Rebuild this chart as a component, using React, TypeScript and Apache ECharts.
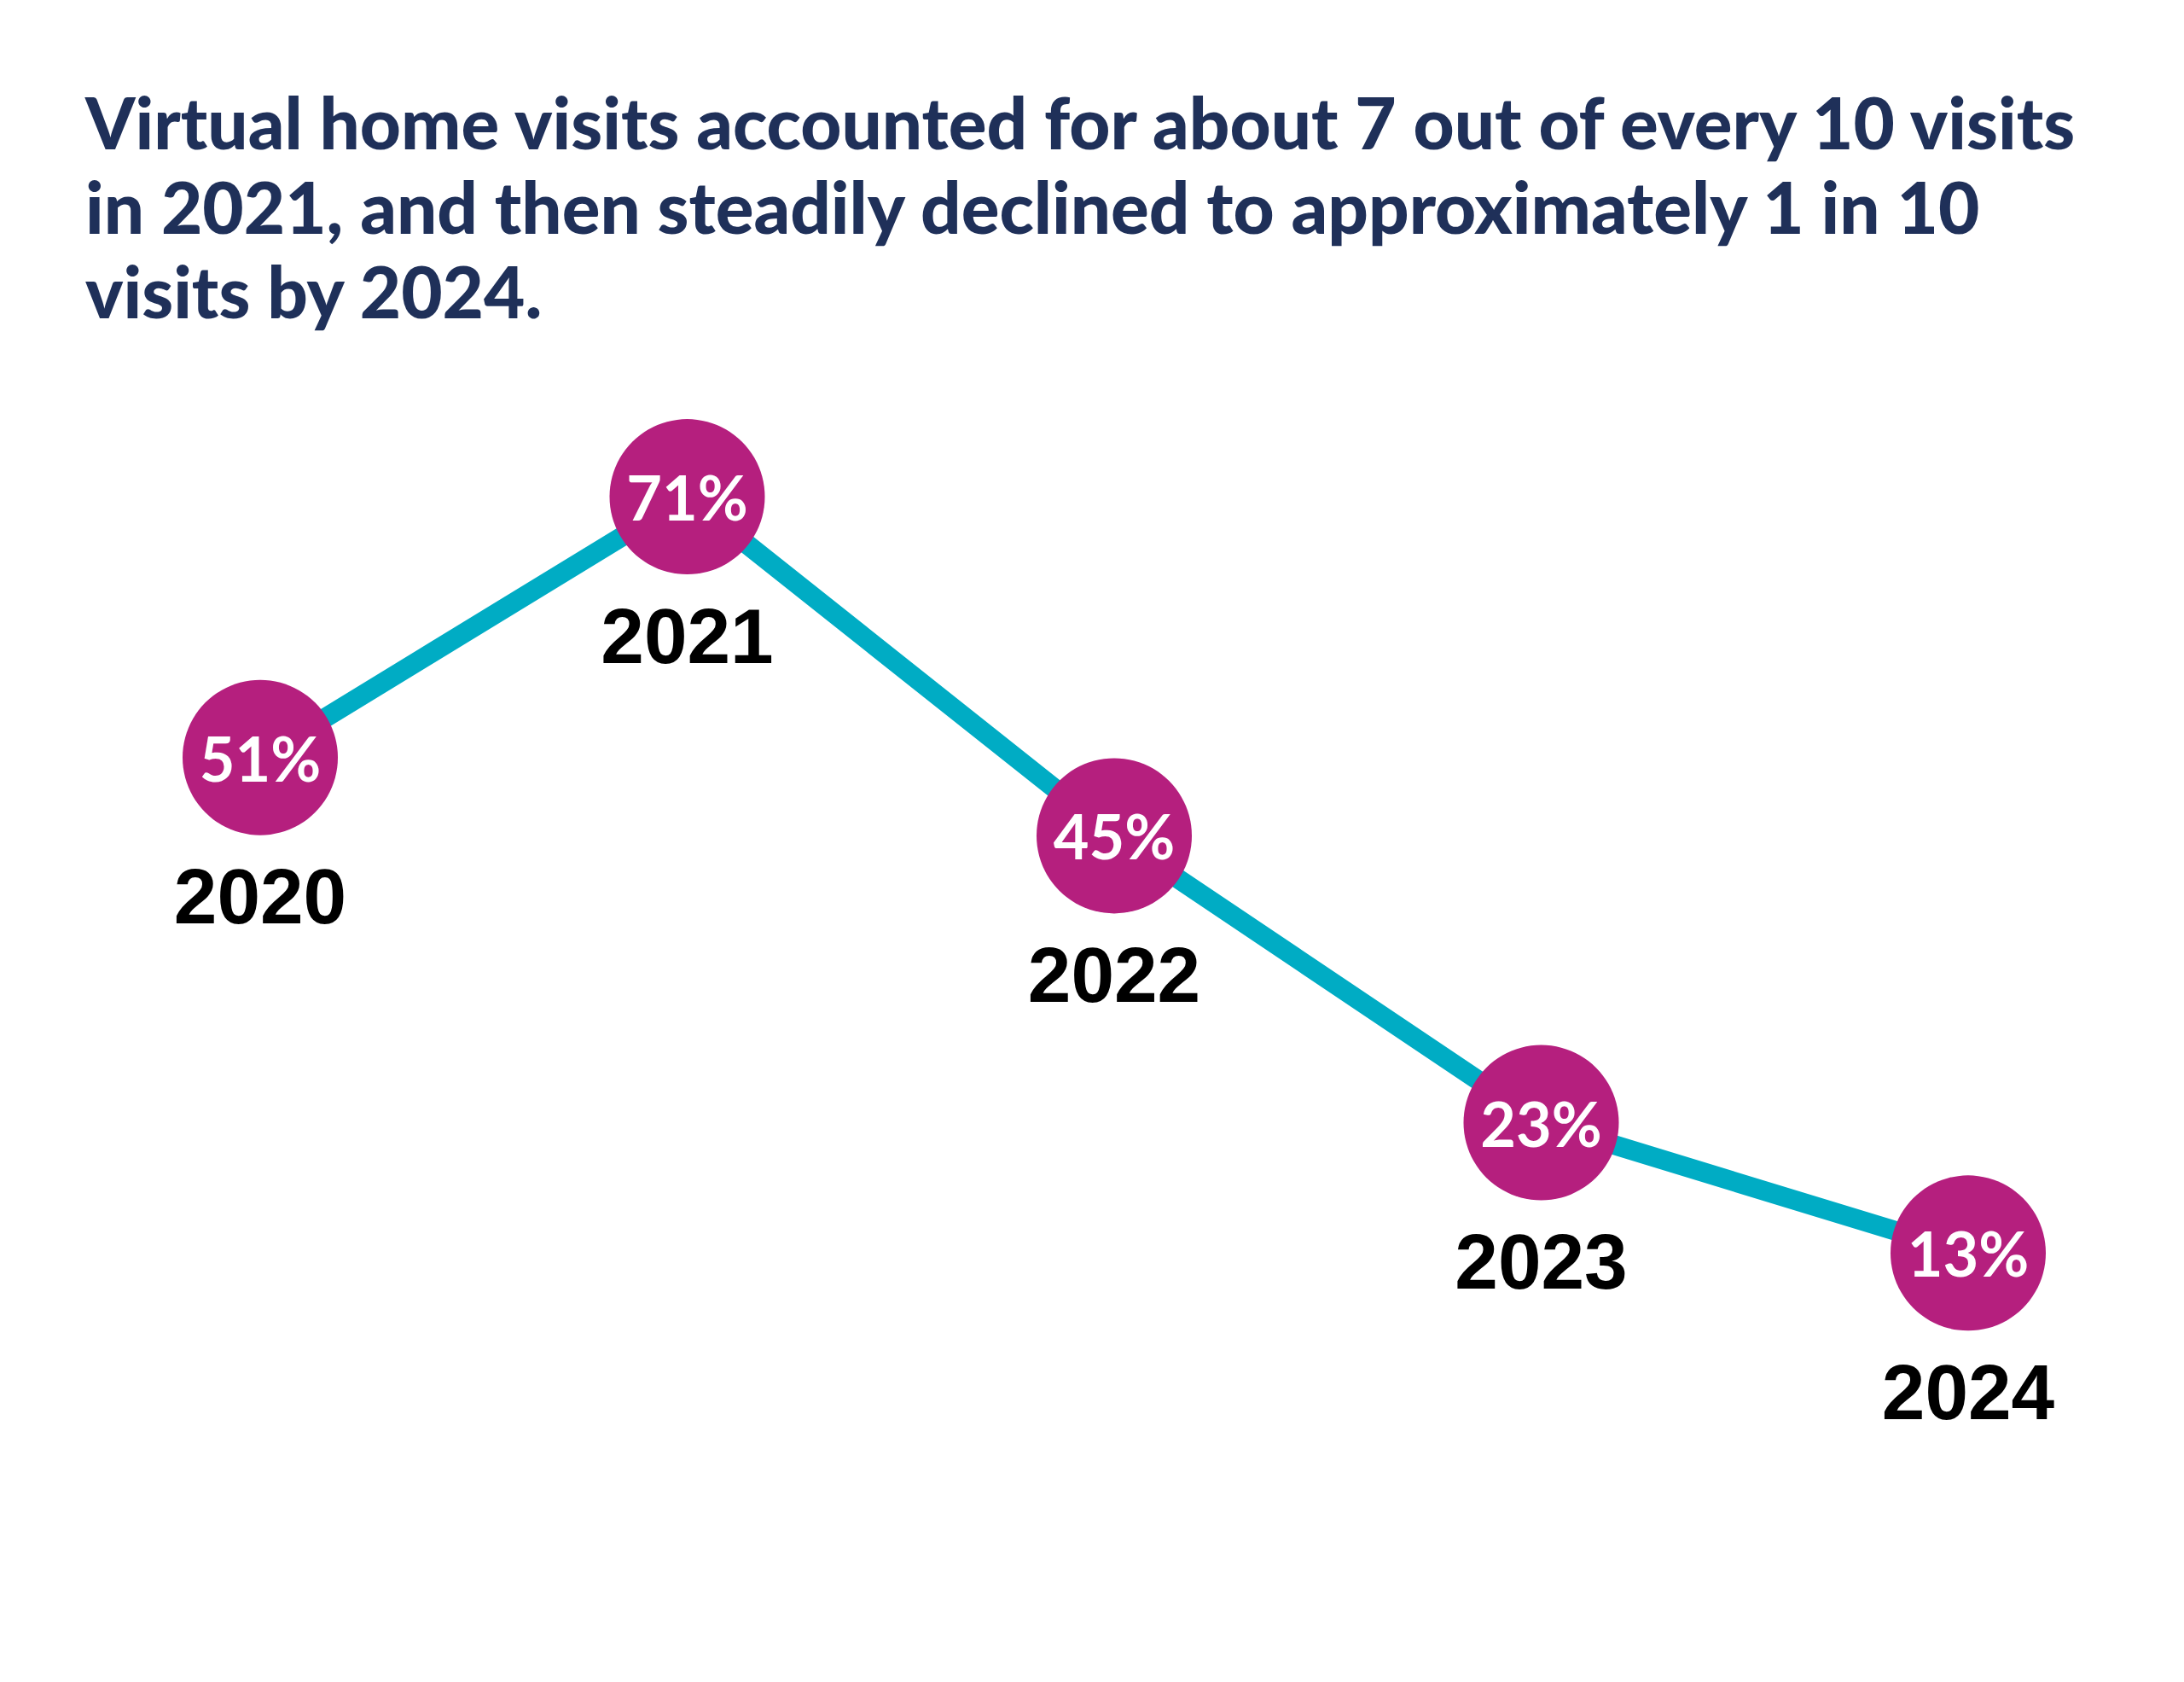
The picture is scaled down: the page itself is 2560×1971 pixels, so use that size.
import React, { useEffect, useRef } from "react";
import * as echarts from "echarts";

// Share of home visits delivered virtually, by year
const years = ["2020", "2021", "2022", "2023", "2024"];
const virtualShare = [51, 71, 45, 23, 13];

const titleLines = [
  "Virtual home visits accounted for about 7 out of every 10 visits",
  "in 2021, and then steadily declined to approximately 1 in 10",
  "visits by 2024.",
];

const NAVY = "#1f3059";
const TEAL = "#00acc4";
const MAGENTA = "#b51f7e";

export default function App() {
  const ref = useRef<HTMLDivElement>(null);

  useEffect(() => {
    if (!ref.current) return;
    const chart = echarts.init(ref.current, undefined, { renderer: "svg" });
    chart.setOption({
      animation: false,
      backgroundColor: "#ffffff",
      title: {
        text: titleLines.join("\n"),
        left: 100,
        top: 93,
        padding: 0,
        textStyle: {
          color: NAVY,
          fontFamily: "Lato",
          fontWeight: 900,
          fontSize: 83.5,
          lineHeight: 99,
        },
      },
      grid: { left: 305, right: 253, top: 139, bottom: 304 },
      xAxis: {
        type: "category",
        data: years,
        boundaryGap: false,
        show: false,
      },
      yAxis: {
        type: "value",
        min: 0,
        max: 100,
        show: false,
      },
      series: [
        {
          type: "line",
          data: virtualShare,
          symbol: "circle",
          symbolSize: 182,
          z: 3,
          lineStyle: { color: TEAL, width: 23 },
          itemStyle: { color: MAGENTA },
          label: {
            show: true,
            position: "inside",
            formatter: (p: any) => `${p.value}%`,
            color: "#ffffff",
            fontFamily: "Lato",
            fontWeight: 700,
            fontSize: 72,
          },
        },
        {
          // year captions placed beneath each marker
          type: "scatter",
          data: virtualShare,
          symbol: "circle",
          symbolSize: 2,
          z: 2,
          itemStyle: { color: "#ffffff", opacity: 1 },
          label: {
            show: true,
            position: "inside",
            offset: [0, 163],
            formatter: (p: any) => years[p.dataIndex],
            color: "#000000",
            opacity: 1,
            textBorderWidth: 0,
            textShadowBlur: 0,
            fontFamily: "Liberation Sans",
            fontWeight: "bold",
            fontSize: 91,
          },
        },
      ],
    });
    return () => chart.dispose();
  }, []);

  return (
    <div
      ref={ref}
      style={{ position: "absolute", left: 0, top: 0, width: 2560, height: 1971 }}
    />
  );
}
